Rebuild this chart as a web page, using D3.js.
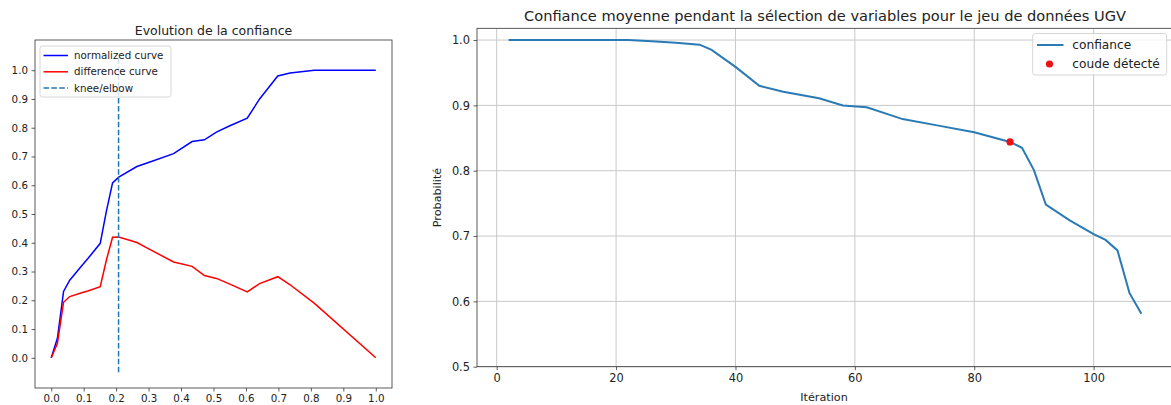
<!DOCTYPE html>
<html><head><meta charset="utf-8">
<script src="https://cdn.jsdelivr.net/npm/d3@7"></script>
<style>
html,body{margin:0;padding:0;background:#fff;}
svg{display:block;font-family:"DejaVu Sans",sans-serif;}
</style></head>
<body>
<svg id="c" width="1171" height="405"></svg>
<script>
// ---------- Left chart data (normalized, flipped) ----------
const normX   = [0, 0.019, 0.038, 0.057, 0.094, 0.113, 0.151, 0.170, 0.189, 0.208, 0.264, 0.302, 0.377, 0.434, 0.472, 0.509, 0.547, 0.604, 0.642, 0.698, 0.736, 0.811, 1.0];
const normY   = [0, 0.068, 0.231, 0.270, 0.320, 0.345, 0.398, 0.510, 0.608, 0.628, 0.665, 0.680, 0.710, 0.752, 0.758, 0.785, 0.805, 0.833, 0.900, 0.980, 0.990, 1.0, 1.0];
const diffY   = [0, 0.050, 0.193, 0.213, 0.226, 0.232, 0.247, 0.340, 0.419, 0.420, 0.401, 0.378, 0.333, 0.318, 0.286, 0.276, 0.258, 0.229, 0.258, 0.282, 0.254, 0.189, 0.0];
const kneeX   = 0.2075;
const leftTicks = [0,0.1,0.2,0.3,0.4,0.5,0.6,0.7,0.8,0.9,1.0];
const leftLegend = ["normalized curve","difference curve","knee/elbow"];
const leftTitle = "Evolution de la confiance";

// ---------- Right chart data ----------
const iterations = [2, 22, 26, 30, 34, 36, 40, 44, 48, 54, 58, 62, 68, 74, 80, 86, 88, 90, 92, 96, 100, 102, 104, 106, 108];
const confiance  = [1.0, 1.0, 0.998, 0.996, 0.993, 0.985, 0.959, 0.930, 0.921, 0.911, 0.900, 0.897, 0.879, 0.869, 0.859, 0.844, 0.835, 0.801, 0.748, 0.724, 0.703, 0.694, 0.678, 0.613, 0.581];
const elbowIter = 86, elbowVal = 0.844;
const rightXTicks = [0,20,40,60,80,100];
const rightYTicks = [0.5,0.6,0.7,0.8,0.9,1.0];
const rightLegend = ["confiance","coude détecté"];
const rightTitle = "Confiance moyenne pendant la sélection de variables pour le jeu de données UGV";

const svg = d3.select("#c");
const spine = "#333";

// ================= LEFT =================
const L = {x0:35, x1:392, y0:40, y1:388};
const lx = d3.scaleLinear().domain([-0.05,1.05]).range([L.x0,L.x1]);
const ly = d3.scaleLinear().domain([-0.105,1.105]).range([L.y1,L.y0]);
const gL = svg.append("g");

const styleAxis = (g, fs) => {
  g.select(".domain").remove();
  g.selectAll(".tick line").attr("stroke", spine).attr("stroke-width",0.8);
  g.selectAll(".tick text").attr("fill","#222").style("font-size", fs+"px").style("font-family","DejaVu Sans");
};

gL.append("g").attr("transform",`translate(0,${L.y1})`)
  .call(d3.axisBottom(lx).tickValues(leftTicks).tickFormat(d3.format(".1f")).tickSize(3.5).tickPadding(3.5))
  .call(g=>styleAxis(g,10.3));
gL.append("g").attr("transform",`translate(${L.x0},0)`)
  .call(d3.axisLeft(ly).tickValues(leftTicks).tickFormat(d3.format(".1f")).tickSize(3.5).tickPadding(3.5))
  .call(g=>styleAxis(g,10.3));

const lineL = d3.line().x(d=>lx(d[0])).y(d=>ly(d[1]));
gL.append("path").datum(normX.map((x,i)=>[x,normY[i]]))
  .attr("d",lineL).attr("fill","none").attr("stroke","#0000ff").attr("stroke-width",1.5);
gL.append("path").datum(normX.map((x,i)=>[x,diffY[i]]))
  .attr("d",lineL).attr("fill","none").attr("stroke","#ff0000").attr("stroke-width",1.5);
gL.append("line").attr("x1",lx(kneeX)).attr("x2",lx(kneeX)).attr("y1",ly(-0.05)).attr("y2",ly(1.05))
  .attr("stroke","#1f77b4").attr("stroke-width",1.5).attr("stroke-dasharray","5.5,2.4");

gL.append("rect").attr("x",L.x0).attr("y",L.y0).attr("width",L.x1-L.x0).attr("height",L.y1-L.y0)
  .attr("fill","none").attr("stroke",spine).attr("stroke-width",0.8);

// legend left
const lg = gL.append("g");
lg.append("rect").attr("x",40).attr("y",46).attr("width",131).attr("height",51).attr("rx",2.5)
  .attr("fill","#fff").attr("fill-opacity",0.8).attr("stroke","#ccc").attr("stroke-width",0.8);
const lcol = ["#0000ff","#ff0000","#1f77b4"];
leftLegend.forEach((t,i)=>{
  const yy = 55.5 + i*16.3;
  lg.append("line").attr("x1",43.5).attr("x2",68).attr("y1",yy).attr("y2",yy)
    .attr("stroke",lcol[i]).attr("stroke-width",1.5).attr("stroke-dasharray", i===2?"5.5,2.4":null);
  lg.append("text").attr("x",74).attr("y",yy).attr("dy","0.35em").style("font-size","10.3px").attr("fill","#222").text(t);
});

gL.append("text").attr("x",(L.x0+L.x1)/2).attr("y",34.5).attr("text-anchor","middle")
  .style("font-size","12.5px").attr("fill","#222").text(leftTitle);

// ================= RIGHT =================
const R = {x0:477, x1:1173, y0:28.3, y1:366.7};
const rx = d3.scaleLinear().domain([-3.3,113.3]).range([R.x0,R.x1]);
const ry = d3.scaleLinear().domain([0.5,1.018]).range([R.y1,R.y0]);
const gR = svg.append("g");

// grid
gR.append("g").selectAll("line").data(rightXTicks).join("line")
  .attr("x1",d=>rx(d)).attr("x2",d=>rx(d)).attr("y1",R.y0).attr("y2",R.y1)
  .attr("stroke","#c8c8c8").attr("stroke-width",1);
gR.append("g").selectAll("line").data(rightYTicks).join("line")
  .attr("x1",R.x0).attr("x2",R.x1).attr("y1",d=>ry(d)).attr("y2",d=>ry(d))
  .attr("stroke","#c8c8c8").attr("stroke-width",1);

gR.append("g").attr("transform",`translate(0,${R.y1})`)
  .call(d3.axisBottom(rx).tickValues(rightXTicks).tickFormat(d3.format("d")).tickSize(3.5).tickPadding(3.5))
  .call(g=>styleAxis(g,11.4));
gR.append("g").attr("transform",`translate(${R.x0},0)`)
  .call(d3.axisLeft(ry).tickValues(rightYTicks).tickFormat(d3.format(".1f")).tickSize(3.5).tickPadding(3.5))
  .call(g=>styleAxis(g,11.4));

const lineR = d3.line().x(d=>rx(d[0])).y(d=>ry(d[1]));
gR.append("path").datum(iterations.map((x,i)=>[x,confiance[i]]))
  .attr("d",lineR).attr("fill","none").attr("stroke","#2a7ab5").attr("stroke-width",2);
gR.append("circle").attr("cx",rx(elbowIter)).attr("cy",ry(elbowVal)).attr("r",3.6).attr("fill","#ee1111");

gR.append("rect").attr("x",R.x0).attr("y",R.y0).attr("width",R.x1-R.x0).attr("height",R.y1-R.y0)
  .attr("fill","none").attr("stroke",spine).attr("stroke-width",0.8);

// legend right
const rg = gR.append("g");
rg.append("rect").attr("x",1032.7).attr("y",33.5).attr("width",134).attr("height",41.5).attr("rx",2.5)
  .attr("fill","#fff").attr("fill-opacity",0.8).attr("stroke","#ccc").attr("stroke-width",0.8);
rg.append("line").attr("x1",1037).attr("x2",1063.5).attr("y1",45).attr("y2",45)
  .attr("stroke","#2a7ab5").attr("stroke-width",2);
rg.append("circle").attr("cx",1049.5).attr("cy",64).attr("r",3.6).attr("fill","#ee1111");
rightLegend.forEach((t,i)=>{
  rg.append("text").attr("x",1072.3).attr("y",45+i*19).attr("dy","0.35em").style("font-size","12.2px").attr("fill","#222").text(t);
});

gR.append("text").attr("x",(R.x0+R.x1)/2).attr("y",21).attr("text-anchor","middle")
  .style("font-size","14.6px").attr("fill","#222").text(rightTitle);
gR.append("text").attr("x",824).attr("y",401).attr("text-anchor","middle")
  .style("font-size","11.2px").attr("fill","#222").text("Itération");
gR.append("text").attr("transform","translate(436.7,197.5) rotate(-90)").attr("dy","0.35em").attr("text-anchor","middle")
  .style("font-size","11.2px").attr("fill","#222").text("Probabilité");
</script>
</body></html>
